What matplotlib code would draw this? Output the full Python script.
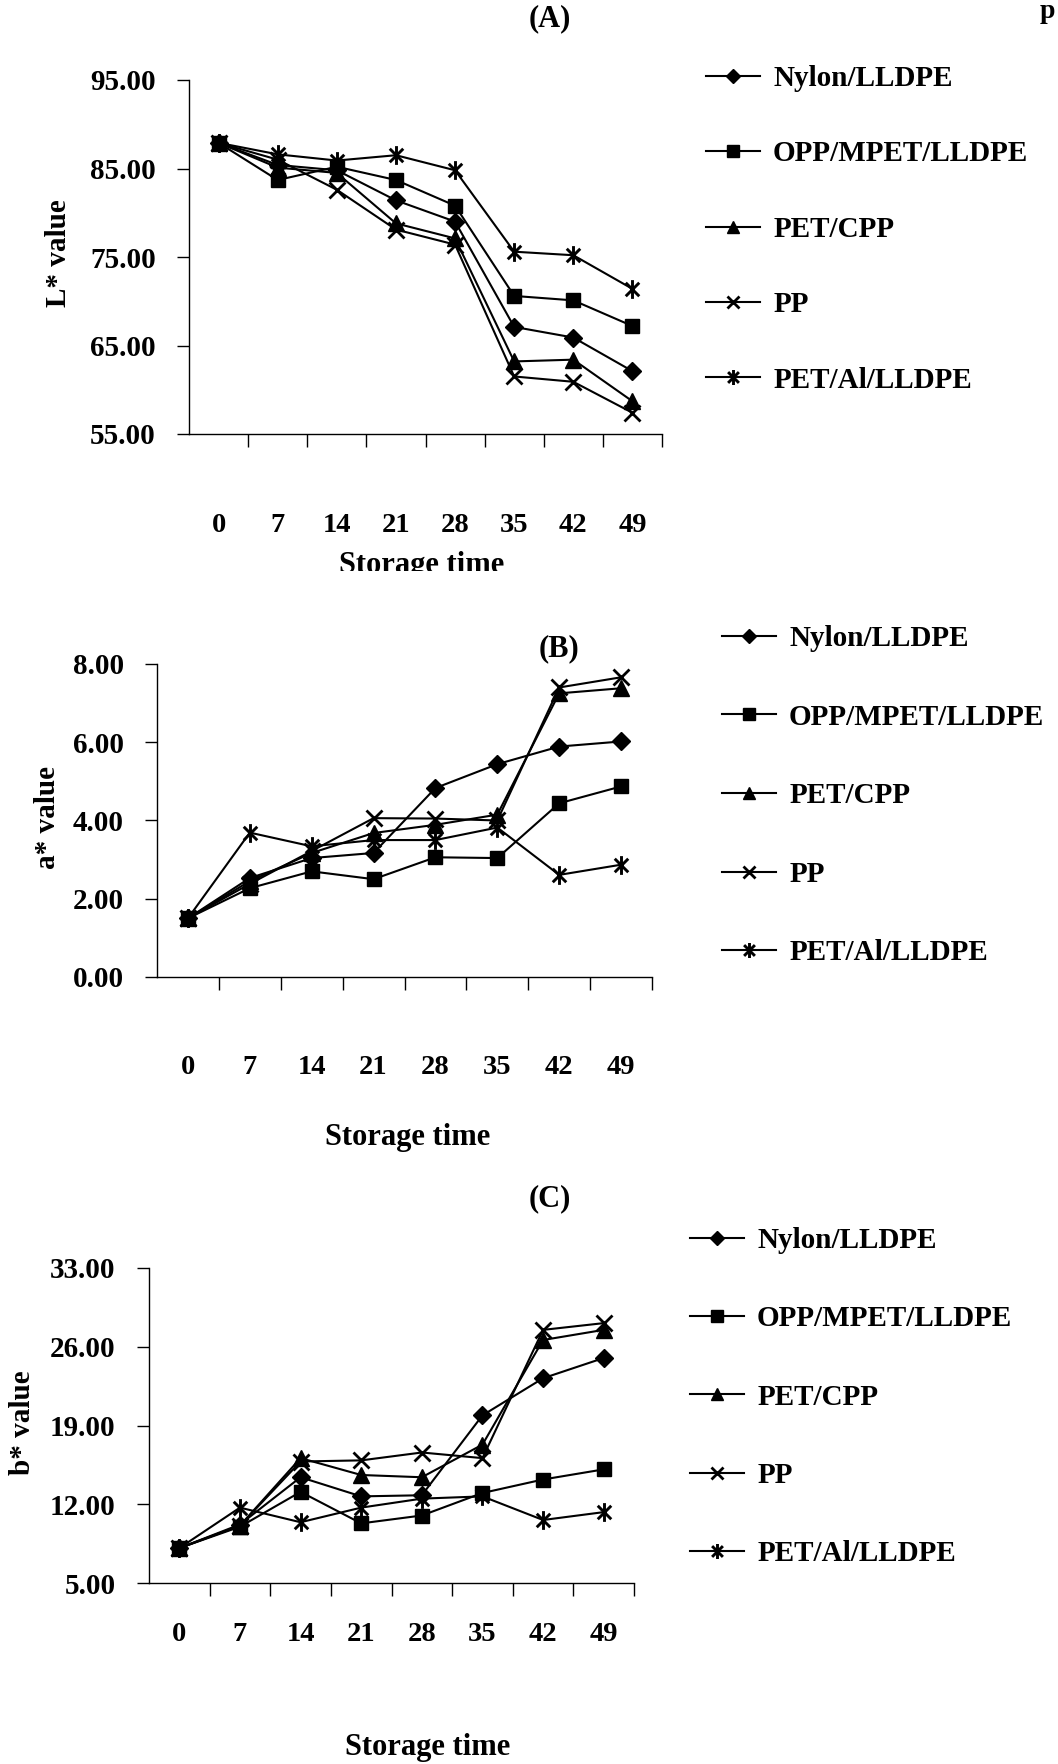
import matplotlib
matplotlib.use("Agg")
import matplotlib.pyplot as plt
from matplotlib.path import Path
from matplotlib.transforms import Bbox, TransformedBbox

plt.rcParams["font.family"] = ["Liberation Serif", "DejaVu Serif"]
plt.rcParams["font.weight"] = "bold"

days = ["0", "7", "14", "21", "28", "35", "42", "49"]
films = ["Nylon/LLDPE", "OPP/MPET/LLDPE", "PET/CPP", "PP", "PET/Al/LLDPE"]

# panel A: L* value
l_nylon = [87.9, 85.4, 84.8, 81.4, 79.0, 67.1, 65.9, 62.1]
l_opp = [87.9, 83.7, 85.2, 83.7, 80.8, 70.6, 70.1, 67.2]
l_petcpp = [87.9, 85.1, 84.5, 78.8, 77.1, 63.2, 63.4, 58.7]
l_pp = [87.9, 86.0, 82.6, 78.1, 76.4, 61.5, 60.9, 57.4]
l_petal = [87.9, 86.6, 85.9, 86.5, 84.8, 75.6, 75.2, 71.4]

# panel B: a* value
a_nylon = [1.5, 2.53, 3.04, 3.17, 4.83, 5.44, 5.89, 6.02]
a_opp = [1.5, 2.27, 2.70, 2.50, 3.06, 3.04, 4.44, 4.87]
a_petcpp = [1.5, 2.45, 3.17, 3.68, 3.89, 4.15, 7.25, 7.38]
a_pp = [1.5, 2.38, 3.22, 4.06, 4.05, 4.00, 7.40, 7.66]
a_petal = [1.5, 3.69, 3.34, 3.50, 3.50, 3.82, 2.61, 2.87]

# panel C: b* value
b_nylon = [8.1, 10.2, 14.4, 12.7, 12.8, 19.9, 23.2, 25.0]
b_opp = [8.1, 10.0, 13.1, 10.3, 11.0, 13.0, 14.2, 15.1]
b_petcpp = [8.1, 10.1, 16.1, 14.6, 14.4, 17.3, 26.6, 27.5]
b_pp = [8.1, 10.1, 15.8, 15.9, 16.6, 16.1, 27.5, 28.1]
b_petal = [8.1, 11.7, 10.4, 11.7, 12.5, 12.7, 10.6, 11.3]

W, H = 1058, 1764

# Excel-style star: an x with a vertical bar through it
star = Path(
    [(0, -1), (0, 1), (-0.72, -0.72), (0.72, 0.72), (-0.72, 0.72), (0.72, -0.72)],
    [Path.MOVETO, Path.LINETO, Path.MOVETO, Path.LINETO, Path.MOVETO, Path.LINETO],
)
markers = [
    dict(marker="D", ms=9.5),
    dict(marker="s", ms=10.5),
    dict(marker="^", ms=11),
    dict(marker="x", ms=11.5, mew=2.0),
    dict(marker=star, ms=13.5, mew=2.1),
]


def px_axes(fig, left, right, top, bottom):
    return fig.add_axes([left / W, 1 - bottom / H, (right - left) / W, (bottom - top) / H])


def draw_panel(fig, box, series, ylim, yticks, ylabel, label_x, xpad, legend_box, spacing):
    ax = px_axes(fig, *box)
    x = list(range(len(days)))
    for name, vals, mk in zip(films, series, markers):
        ax.plot(x, vals, color="black", lw=1.5, mfc="black", mec="black",
                label=name, clip_on=False, **mk)
    ax.set_xlim(-0.5, len(days) - 0.5)
    ax.set_ylim(*ylim)
    ax.set_yticks(yticks)
    ax.set_yticklabels([f"{v:.2f}" for v in yticks])
    ax.set_xticks([i + 0.5 for i in x])
    ax.set_xticklabels([])
    ax.set_xticks(x, minor=True)
    ax.set_xticklabels(days, minor=True)
    ax.tick_params(axis="x", which="major", direction="out", length=9.5, width=1)
    ax.tick_params(axis="x", which="minor", length=0, pad=xpad, labelsize=20.5)
    ax.tick_params(axis="y", direction="out", length=9, width=1, pad=15, labelsize=21)
    for s in ("top", "right"):
        ax.spines[s].set_visible(False)
    for s in ("left", "bottom"):
        ax.spines[s].set_linewidth(1.0)
    ax.set_ylabel(ylabel, fontsize=21, fontweight="bold")
    ax.yaxis.set_label_coords(label_x, 0.51)
    hx, hy = legend_box
    ax.legend(loc="upper left", bbox_to_anchor=(hx / W, 1 - hy / H),
              bbox_transform=fig.transFigure, frameon=False, borderpad=0,
              borderaxespad=0, handlelength=1.85, handletextpad=0.45,
              labelspacing=spacing, prop={"size": 21, "weight": "bold"},
              markerscale=0.8)
    return ax


fig = plt.figure(figsize=(W / 100, H / 100), dpi=100)

draw_panel(fig, (189, 662, 80, 434), [l_nylon, l_opp, l_petcpp, l_pp, l_petal],
           (55, 95), [55, 65, 75, 85, 95], "L* value", -0.247, 57, (706, 65), 1.66)
draw_panel(fig, (157, 652, 664, 977), [a_nylon, a_opp, a_petcpp, a_pp, a_petal],
           (0, 8), [0, 2, 4, 6, 8], "a* value", -0.194, 56, (722, 625), 1.77)
draw_panel(fig, (149, 634, 1268, 1583), [b_nylon, b_opp, b_petcpp, b_pp, b_petal],
           (5, 33), [5, 12, 19, 26, 33], "b* value", -0.233, 28, (690, 1227), 1.76)

fig.text(550 / W, 1 - 19 / H, "(A)", fontsize=22, ha="center", va="center")
fig.text(559 / W, 1 - 649 / H, "(B)", fontsize=22, ha="center", va="center")
fig.text(550 / W, 1 - 1199 / H, "(C)", fontsize=22, ha="center", va="center")

# panel A's axis title is cut off at its lower edge in the source
t = fig.text(422 / W, 1 - 566 / H, "Storage time", fontsize=22, ha="center", va="center")
t.set_clip_box(TransformedBbox(Bbox([[0, 1 - 571 / H], [1, 1]]), fig.transFigure))
t.set_clip_on(True)
fig.text(408 / W, 1 - 1138 / H, "Storage time", fontsize=22, ha="center", va="center")
fig.text(428 / W, 1 - 1748 / H, "Storage time", fontsize=22, ha="center", va="center")
fig.text(1047 / W, 1 - 12 / H, "p", fontsize=20, ha="center", va="center")

fig.savefig("out.png", dpi=100)
